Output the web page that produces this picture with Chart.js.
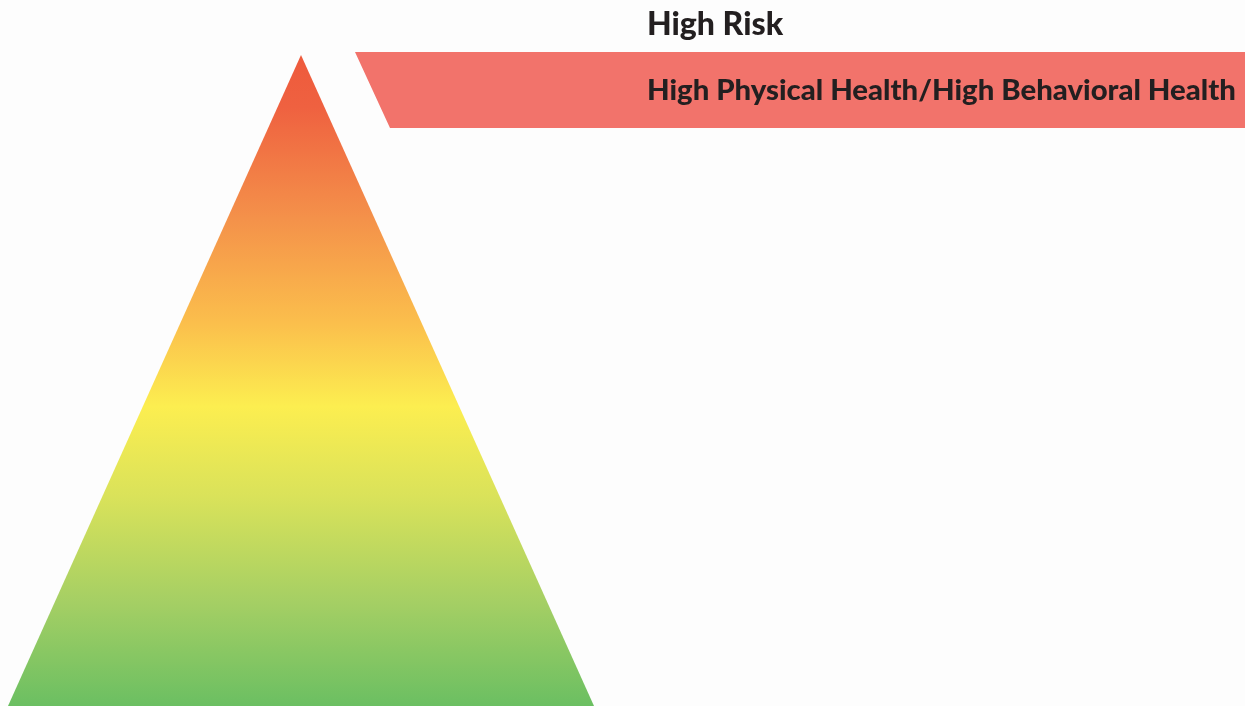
<!DOCTYPE html>
<html>
<head>
<meta charset="utf-8">
<script src="https://cdn.jsdelivr.net/npm/chart.js@4.4.0/dist/chart.umd.min.js"></script>
<style>
  html, body { margin: 0; padding: 0; background: #fdfdfd; }
  #wrap { width: 1245px; height: 706px; }
</style>
</head>
<body>
<div id="wrap"><canvas id="pyramid"></canvas></div>
<script>
// pyramid outline (x, y in chart units, y=0 at the bottom)
var pyramidX = [8, 301, 594];
var pyramidY = [0, 651, 0];

// risk band (parallelogram next to the apex)
var bandX = [355, 1245, 1245, 390, 355];
var bandY = [654, 654, 578, 578, 654];

var levelTitle = 'High Risk';
var bandLabel = 'High Physical Health/High Behavioral Health';

// gradient stops, apex -> base
var gradStops = [0, 0.08, 0.25, 0.41, 0.54, 0.68, 0.84, 1];
var gradColors = ['#ee5a3c', '#ef6140', '#f4914a', '#fbbe4c', '#fcee50', '#d9e25a', '#a5cf64', '#6bbf62'];

function toPoints(xs, ys) {
    return xs.map(function(x, i) { return {x: x, y: ys[i]}; });
}

function pyramidFill(context) {
    var chart = context.chart;
    var area = chart.chartArea;
    if (!area) return gradColors[0];
    var yScale = chart.scales.y;
    var top = yScale.getPixelForValue(Math.max.apply(null, pyramidY));
    var bottom = yScale.getPixelForValue(0);
    var g = chart.ctx.createLinearGradient(0, top, 0, bottom);
    gradStops.forEach(function(s, i) { g.addColorStop(s, gradColors[i]); });
    return g;
}

var labelsPlugin = {
    id: 'bandLabels',
    afterDatasetsDraw: function(chart) {
        var ctx = chart.ctx;
        var xs = chart.scales.x, ys = chart.scales.y;
        ctx.save();
        ctx.fillStyle = '#231f20';
        ctx.textBaseline = 'middle';
        ctx.textAlign = 'left';
        ctx.font = '900 32px Lato';
        ctx.fillText(levelTitle, xs.getPixelForValue(647), ys.getPixelForValue(681));
        ctx.font = '900 29.3px Lato';
        ctx.fillText(bandLabel, xs.getPixelForValue(647), ys.getPixelForValue(615));
        ctx.restore();
    }
};

var ctx = document.getElementById('pyramid').getContext('2d');
var myChart = new Chart(ctx, {
    type: 'scatter',
    data: {
        datasets: [{
            label: 'Pyramid',
            data: toPoints(pyramidX, pyramidY),
            showLine: true,
            fill: 'origin',
            backgroundColor: pyramidFill,
            borderWidth: 0,
            pointRadius: 0,
            tension: 0
        }, {
            label: 'Band',
            data: toPoints(bandX, bandY),
            showLine: true,
            fill: 'shape',
            backgroundColor: '#f2736b',
            borderWidth: 0,
            pointRadius: 0,
            tension: 0
        }]
    },
    plugins: [labelsPlugin],
    options: {
        responsive: true,
        maintainAspectRatio: false,
        animation: false,
        layout: { padding: 0 },
        scales: {
            x: { type: 'linear', min: 0, max: 1245, display: false },
            y: { type: 'linear', min: 0, max: 706, display: false }
        },
        plugins: {
            legend: { display: false },
            tooltip: { enabled: false }
        }
    }
});
</script>
</body>
</html>
